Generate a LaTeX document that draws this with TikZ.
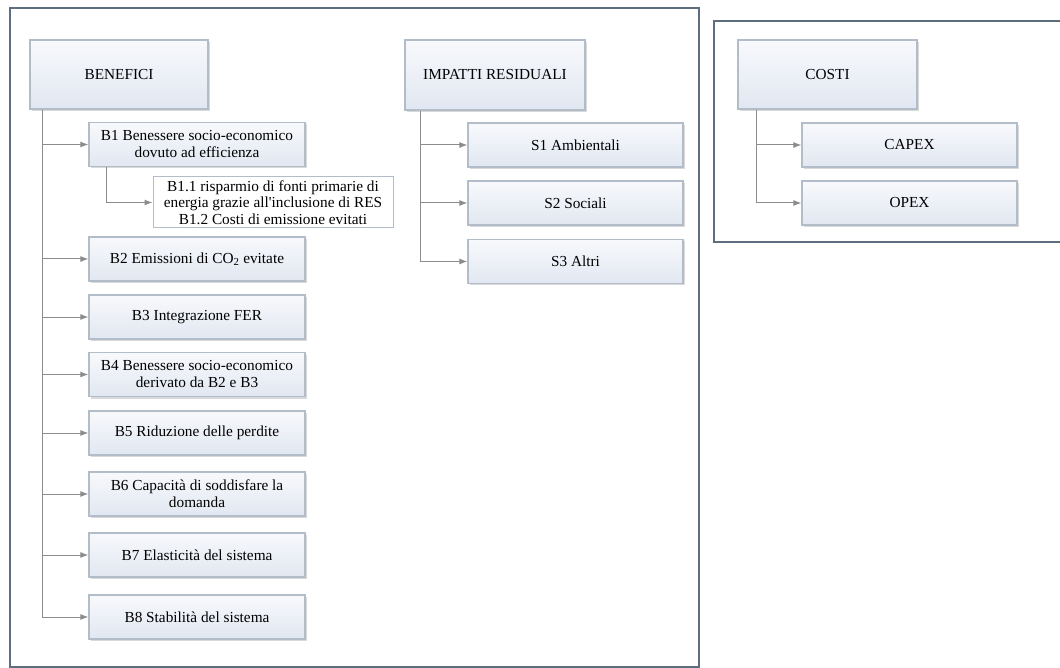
\documentclass[tikz,border=0pt]{standalone}
\usepackage{fontspec}
\setmainfont{Liberation Serif}
\usetikzlibrary{arrows.meta,shadows}
\definecolor{boxline}{HTML}{B3BDCA}
\definecolor{boxtop}{HTML}{F8F9FC}
\definecolor{boxbot}{HTML}{E1E7F1}
\definecolor{frameline}{HTML}{5E6E7E}
\definecolor{linkgray}{HTML}{8C8C8C}
\tikzset{
  box/.style={draw=boxline, line width=1.2pt, top color=boxtop, bottom color=boxbot,
    drop shadow={shadow xshift=2pt, shadow yshift=-2pt, fill=black!25, opacity=.6},
    align=center, inner sep=2pt, font=\fontsize{15.3}{17}\selectfont},
  headbox/.style={box, line width=2pt, minimum width=178pt, minimum height=69pt},
  itembox/.style={box, minimum width=216pt, minimum height=44pt},
  notebox/.style={draw=boxline, line width=1pt, fill=white, align=center, inner sep=1pt,
    minimum width=240pt, minimum height=51pt, font=\fontsize{15.3}{16.5}\selectfont},
  link/.style={draw=linkgray, line width=1pt, -{Latex[length=8pt,width=6pt]}},
  frame/.style={draw=frameline, line width=1.3pt}
}
\begin{document}
\begin{tikzpicture}[x=1pt, y=-1pt]
    \useasboundingbox (0,0) rectangle (1060,668);
    \draw[frame] (10,8) rectangle (699,667);
    \draw[frame] (714,21) rectangle (1070,242);

    % benefici
    \node[headbox] (ben) at (119,74.5) {BENEFICI};
    \node[itembox] (b1) at (197,144.5) {B1 Benessere socio-economico\\dovuto ad efficienza};
    \node[notebox] (b11) at (273,202.5) {B1.1 risparmio di fonti primarie di\\energia grazie all\textquotesingle inclusione di RES\\B1.2 Costi di emissione evitati};
    \node[itembox] (b2) at (197,259) {B2 Emissioni di CO\textsubscript{2} evitate};
    \node[itembox] (b3) at (197,317) {B3 Integrazione FER};
    \node[itembox] (b4) at (197,374.5) {B4 Benessere socio-economico\\derivato da B2 e B3};
    \node[itembox] (b5) at (197,433) {B5 Riduzione delle perdite};
    \node[itembox] (b6) at (197,494) {B6 Capacità di soddisfare la\\domanda};
    \node[itembox] (b7) at (197,555) {B7 Elasticità del sistema};
    \node[itembox] (b8) at (197,617) {B8 Stabilità del sistema};

    % impatti residuali
    \node[headbox, minimum width=180pt, minimum height=70pt] (imp) at (495,75) {IMPATTI RESIDUALI};
    \node[itembox, minimum width=215pt] (s1) at (575.5,145) {S1 Ambientali};
    \node[itembox, minimum width=215pt] (s2) at (575.5,203) {S2 Sociali};
    \node[itembox, minimum width=215pt] (s3) at (575.5,261.5) {S3 Altri};

    % costi
    \node[headbox, minimum width=179pt] (cos) at (827.5,74.5) {COSTI};
    \node[itembox, minimum width=215pt] (capex) at (909.5,145) {CAPEX};
    \node[itembox, minimum width=215pt] (opex) at (909.5,203) {OPEX};

    \foreach \b in {b1,b2,b3,b4,b5,b6,b7,b8}
        \draw[link] ([xshift=13pt]ben.south west) |- (\b.west);
    \draw[link] ([xshift=18pt]b1.south west) |- (b11.west);
    \foreach \s in {s1,s2,s3}
        \draw[link] ([xshift=16pt]imp.south west) |- (\s.west);
    \foreach \c in {capex,opex}
        \draw[link] ([xshift=19pt]cos.south west) |- (\c.west);
\end{tikzpicture}
\end{document}
